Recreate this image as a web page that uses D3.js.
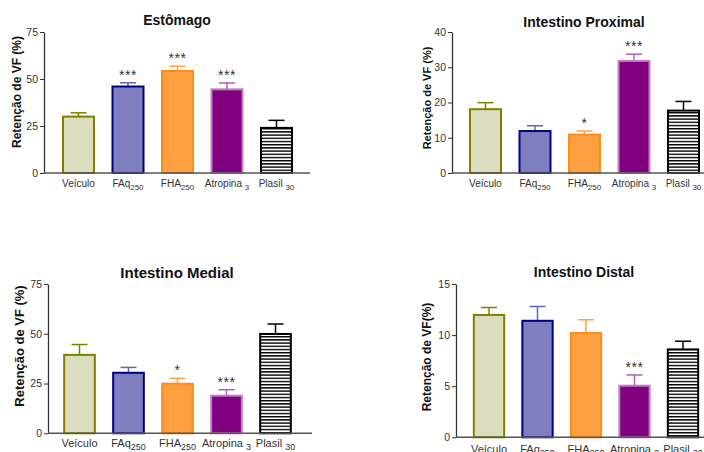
<!DOCTYPE html>
<html><head><meta charset="utf-8">
<script src="https://cdn.jsdelivr.net/npm/d3@7/dist/d3.min.js"></script>
<style>body{margin:0;background:#fff}svg{display:block}text{font-family:"Liberation Sans",Arial,sans-serif}</style>
</head><body>
<script>
const categories = ["Veículo","FAq","FHA","Atropina","Plasil"];
const subs = ["","250","250","3","30"];
const titles = ["Estômago","Intestino Proximal","Intestino Medial","Intestino Distal"];
const estomagoMean = [30, 46, 54.3, 44.5, 24];
const estomagoErr  = [32, 48, 56.8, 47.9, 28];
const estomagoSig  = ["", "***", "***", "***", ""];
const proximalMean = [18.1, 11.9, 10.9, 31.8, 17.7];
const proximalErr  = [19.95, 13.4, 11.9, 33.7, 20.3];
const proximalSig  = ["", "", "*", "***", ""];
const medialMean = [39.4, 30.4, 24.9, 18.9, 49.9];
const medialErr  = [44.6, 33.1, 27.6, 21.9, 54.9];
const medialSig  = ["", "", "*", "***", ""];
const distalMean = [11.97, 11.4, 10.2, 5.05, 8.6];
const distalErr  = [12.7, 12.8, 11.5, 6.1, 9.4];
const distalSig  = ["", "", "", "***", ""];
const ticks75 = [0,25,50,75], ticks40 = [0,10,20,30,40], ticks15 = [0,5,10,15];

const fills = ["#DCDCBE","#7F7FBF","#FFA040","#800080","url(#stripes)"];
const strokes = ["#808000","#000080","#FF8C1A","#C080C0","#000"];
const errColors = ["#808000","#6666B0","#FFA040","#B060B0","#000"];

const svg = d3.select("body").append("svg").attr("width",704).attr("height",452);
const pat = svg.append("defs").append("pattern").attr("id","stripes")
  .attr("patternUnits","userSpaceOnUse").attr("width",10).attr("height",3.2);
pat.append("rect").attr("width",10).attr("height",3.2).attr("fill","#fff");
pat.append("rect").attr("y",0).attr("width",10).attr("height",1.4).attr("fill","#000");

const panels = [
 {title:titles[0], mean:estomagoMean, err:estomagoErr, sig:estomagoSig, max:75, ticks:ticks75,
  ax:44, yTop:32, yBot:173, band:[53.75,301.25], axEnd:310, tx:177, ty:25, tfs:14,
  ylab:"Retenção de VF (%)", lx:17, ly:92, lfs:12, xly:187, xfs:10},
 {title:titles[1], mean:proximalMean, err:proximalErr, sig:proximalSig, max:40, ticks:ticks40,
  ax:452, yTop:32, yBot:173, band:[460.75,708.25], axEnd:704, tx:584, ty:27, tfs:14,
  ylab:"Retenção de VF (%)", lx:427, ly:98, lfs:11, xly:187, xfs:10},
 {title:titles[2], mean:medialMean, err:medialErr, sig:medialSig, max:75, ticks:ticks75,
  ax:48, yTop:284, yBot:433.3, band:[55,300], axEnd:312, tx:177, ty:278, tfs:15,
  ylab:"Retenção de VF (%)", lx:19, ly:346, lfs:13, xly:447, xfs:11},
 {title:titles[3], mean:distalMean, err:distalErr, sig:distalSig, max:15, ticks:ticks15,
  ax:456, yTop:284, yBot:437.3, band:[464.75,707.25], axEnd:704, tx:584, ty:277, tfs:14,
  ylab:"Retenção de VF(%)", lx:427, ly:357, lfs:12, xly:453, xfs:11}
];

panels.forEach(p => {
  const g = svg.append("g");
  const x = d3.scaleBand().domain(categories).range(p.band).paddingInner(1/3).paddingOuter(1/6);
  const y = d3.scaleLinear().domain([0,p.max]).range([p.yBot,p.yTop]);
  categories.forEach((c,i) => {
    const cx = x(c) + x.bandwidth()/2;
    g.append("line").attr("x1",cx).attr("x2",cx).attr("y1",y(p.mean[i])).attr("y2",y(p.err[i]))
      .attr("stroke",errColors[i]).attr("stroke-width",1.5);
    g.append("line").attr("x1",cx-8).attr("x2",cx+8).attr("y1",y(p.err[i])).attr("y2",y(p.err[i]))
      .attr("stroke",errColors[i]).attr("stroke-width",1.5);
    if (p.sig[i]) g.append("text").attr("x",cx).attr("y",y(p.err[i])-3).attr("text-anchor","middle")
      .attr("font-size",14).attr("letter-spacing",0.5).attr("fill","#333").text(p.sig[i]);
  });
  g.selectAll("rect.bar").data(categories).join("rect").attr("class","bar")
    .attr("x",(c)=>x(c)+1).attr("width",x.bandwidth()-2)
    .attr("y",(c,i)=>y(p.mean[i])).attr("height",(c,i)=>y(0)-y(p.mean[i]))
    .attr("fill",(c,i)=>fills[i]).attr("stroke",(c,i)=>strokes[i]).attr("stroke-width",2);
  const ya = g.append("g").attr("transform",`translate(${p.ax},0)`)
    .call(d3.axisLeft(y).tickValues(p.ticks).tickSize(4).tickSizeOuter(0).tickPadding(2));
  ya.select(".domain").attr("stroke","#333").attr("stroke-width",1.3);
  ya.selectAll(".tick line").attr("stroke","#333");
  ya.selectAll(".tick text").attr("font-size",10.5).attr("fill","#333")
    .attr("font-family","'Liberation Sans',Arial,sans-serif");
  g.append("line").attr("x1",p.ax).attr("x2",p.axEnd).attr("y1",y(0)).attr("y2",y(0))
    .attr("stroke","#555").attr("stroke-width",1.5);
  categories.forEach((c,i) => {
    const cx = x(c) + x.bandwidth()/2;
    const t = g.append("text").attr("x",cx).attr("y",p.xly).attr("text-anchor","middle")
      .attr("font-size",p.xfs).attr("fill","#333");
    t.append("tspan").text(c + (i>=3 ? " " : ""));
    if (subs[i]) t.append("tspan").attr("dy",3).attr("font-size",p.xfs-2).text(subs[i]);
  });
  g.append("text").attr("x",p.tx).attr("y",p.ty).attr("text-anchor","middle")
    .attr("font-size",p.tfs).attr("font-weight","bold").attr("fill","#111").text(p.title);
  g.append("text").attr("transform",`translate(${p.lx},${p.ly}) rotate(-90)`)
    .attr("text-anchor","middle").attr("dy","0.35em").attr("font-size",p.lfs)
    .attr("font-weight","bold").attr("fill","#111").text(p.ylab);
});
</script>
</body></html>
